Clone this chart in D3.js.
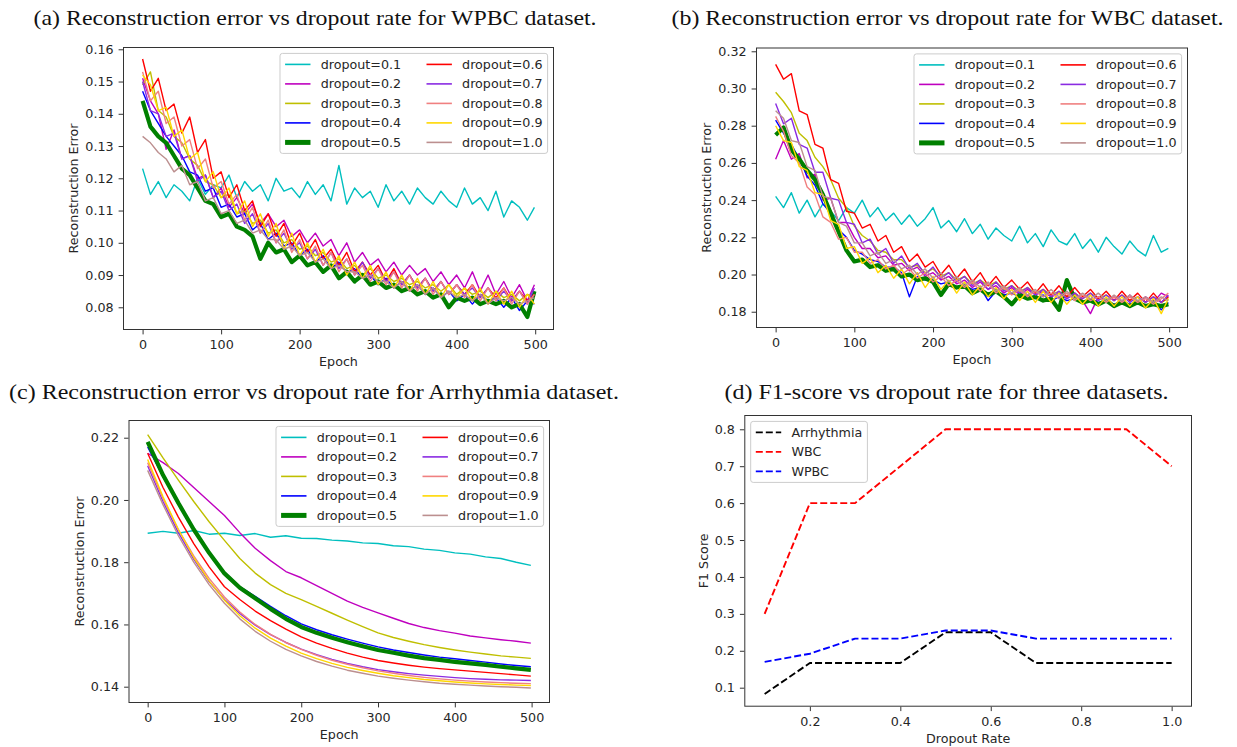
<!DOCTYPE html>
<html><head><meta charset="utf-8">
<script src="https://cdn.jsdelivr.net/npm/d3@7"></script>
<style>
body{margin:0;background:#fff}
svg text{font-family:"DejaVu Sans",sans-serif}
</style></head><body>
<svg id="c" width="1237" height="747"></svg>
<script>
// ---------- DATA ----------
const dropoutLabels = ["dropout=0.1","dropout=0.2","dropout=0.3","dropout=0.4","dropout=0.5","dropout=0.6","dropout=0.7","dropout=0.8","dropout=0.9","dropout=1.0"];
const epochs10 = [...d3.range(0,500,10), 499];
const epochs20 = [...d3.range(0,500,20), 499];

// (a) WPBC reconstruction error, sampled every 10 epochs
const wpbc_01 = [0.123,0.115,0.119,0.114,0.118,0.116,0.113,0.120,0.115,0.118,
 0.117,0.121,0.114,0.119,0.116,0.118,0.113,0.120,0.116,0.117,
 0.114,0.119,0.115,0.118,0.113,0.124,0.112,0.117,0.114,0.116,
 0.111,0.118,0.113,0.116,0.112,0.117,0.114,0.112,0.116,0.113,
 0.111,0.117,0.112,0.114,0.110,0.116,0.108,0.113,0.111,0.107,0.111];
const wpbc_02 = [0.151,0.144,0.140,0.129,0.135,0.126,0.127,0.120,0.121,0.114,
 0.117,0.111,0.114,0.109,0.112,0.106,0.109,0.105,0.107,0.102,
 0.104,0.100,0.103,0.099,0.101,0.096,0.100,0.094,0.097,0.093,
 0.095,0.091,0.094,0.090,0.093,0.090,0.092,0.088,0.091,0.087,
 0.090,0.086,0.091,0.085,0.090,0.084,0.088,0.083,0.087,0.082,0.087];
const wpbc_03 = [0.149,0.153,0.141,0.139,0.133,0.131,0.126,0.124,0.119,0.118,
 0.114,0.115,0.109,0.110,0.106,0.107,0.103,0.104,0.100,0.101,
 0.098,0.099,0.096,0.097,0.094,0.095,0.092,0.093,0.090,0.092,
 0.089,0.090,0.088,0.089,0.087,0.088,0.086,0.087,0.085,0.087,
 0.084,0.086,0.084,0.085,0.083,0.085,0.083,0.084,0.082,0.084,0.083];
const wpbc_04 = [0.147,0.141,0.137,0.133,0.130,0.127,0.122,0.121,0.116,0.117,
 0.111,0.112,0.108,0.109,0.104,0.106,0.101,0.103,0.099,0.100,
 0.096,0.098,0.094,0.096,0.092,0.094,0.091,0.092,0.089,0.090,
 0.087,0.089,0.086,0.088,0.085,0.087,0.084,0.086,0.083,0.085,
 0.082,0.084,0.081,0.084,0.082,0.083,0.080,0.083,0.079,0.082,0.081];
const wpbc_05 = [0.144,0.136,0.133,0.131,0.127,0.123,0.121,0.117,0.113,0.112,
 0.108,0.109,0.105,0.104,0.102,0.095,0.100,0.097,0.098,0.094,
 0.096,0.093,0.094,0.091,0.093,0.089,0.091,0.088,0.090,0.087,
 0.088,0.086,0.087,0.085,0.086,0.084,0.085,0.083,0.084,0.080,
 0.083,0.082,0.083,0.081,0.082,0.081,0.082,0.080,0.081,0.077,0.085];
const wpbc_06 = [0.157,0.147,0.151,0.141,0.143,0.134,0.139,0.128,0.132,0.120,
 0.122,0.114,0.118,0.110,0.113,0.105,0.109,0.102,0.106,0.099,
 0.103,0.097,0.101,0.095,0.098,0.093,0.097,0.091,0.094,0.090,
 0.093,0.088,0.092,0.087,0.090,0.086,0.089,0.085,0.088,0.084,
 0.087,0.084,0.087,0.083,0.086,0.083,0.086,0.082,0.085,0.082,0.084];
const wpbc_07 = [0.150,0.141,0.140,0.133,0.134,0.126,0.127,0.119,0.121,0.114,
 0.116,0.110,0.112,0.106,0.109,0.103,0.106,0.100,0.103,0.098,
 0.100,0.095,0.098,0.093,0.097,0.092,0.095,0.090,0.094,0.089,
 0.092,0.088,0.091,0.087,0.090,0.086,0.089,0.085,0.088,0.084,
 0.087,0.084,0.086,0.083,0.086,0.082,0.085,0.082,0.085,0.081,0.086];
const wpbc_08 = [0.153,0.144,0.147,0.137,0.139,0.130,0.132,0.123,0.126,0.117,
 0.119,0.112,0.115,0.107,0.111,0.103,0.107,0.100,0.104,0.097,
 0.101,0.095,0.099,0.093,0.097,0.091,0.095,0.090,0.093,0.088,
 0.092,0.087,0.091,0.086,0.090,0.085,0.089,0.084,0.088,0.084,
 0.087,0.083,0.087,0.082,0.086,0.082,0.086,0.081,0.085,0.081,0.084];
const wpbc_09 = [0.152,0.149,0.141,0.142,0.133,0.135,0.126,0.128,0.119,0.122,
 0.114,0.117,0.109,0.113,0.105,0.109,0.102,0.106,0.098,0.103,
 0.096,0.100,0.094,0.098,0.092,0.096,0.090,0.094,0.089,0.093,
 0.087,0.091,0.086,0.090,0.085,0.089,0.084,0.088,0.083,0.087,
 0.083,0.086,0.082,0.086,0.081,0.085,0.081,0.085,0.080,0.084,0.081];
const wpbc_10 = [0.133,0.131,0.128,0.126,0.122,0.124,0.118,0.119,0.113,0.114,
 0.109,0.110,0.106,0.107,0.103,0.104,0.101,0.101,0.098,0.099,
 0.096,0.097,0.094,0.095,0.092,0.093,0.091,0.091,0.089,0.090,
 0.088,0.088,0.086,0.088,0.085,0.087,0.084,0.086,0.083,0.085,
 0.083,0.084,0.082,0.084,0.081,0.083,0.082,0.083,0.081,0.082,0.083];

// (b) WBC reconstruction error, sampled every 10 epochs
const wbc_01 = [0.242,0.236,0.244,0.233,0.240,0.231,0.238,0.234,0.229,0.236,
 0.233,0.240,0.231,0.236,0.229,0.233,0.227,0.232,0.226,0.230,
 0.236,0.225,0.229,0.223,0.230,0.222,0.227,0.219,0.225,0.221,
 0.218,0.226,0.217,0.222,0.215,0.224,0.218,0.216,0.222,0.214,
 0.219,0.212,0.220,0.215,0.211,0.218,0.213,0.210,0.221,0.212,0.214];
const wbc_02 = [0.262,0.272,0.262,0.265,0.252,0.254,0.240,0.241,0.228,0.228,
 0.220,0.214,0.214,0.209,0.210,0.205,0.206,0.202,0.204,0.199,
 0.201,0.197,0.199,0.195,0.197,0.193,0.196,0.192,0.194,0.190,
 0.193,0.189,0.192,0.189,0.191,0.188,0.190,0.187,0.190,0.186,
 0.179,0.188,0.186,0.188,0.185,0.189,0.184,0.188,0.185,0.190,0.188];
const wbc_03 = [0.298,0.293,0.287,0.276,0.272,0.263,0.258,0.251,0.241,0.236,
 0.226,0.221,0.218,0.213,0.212,0.208,0.208,0.204,0.205,0.201,
 0.203,0.199,0.201,0.197,0.199,0.195,0.197,0.194,0.196,0.192,
 0.194,0.191,0.193,0.190,0.192,0.189,0.191,0.188,0.190,0.187,
 0.190,0.187,0.189,0.186,0.189,0.186,0.188,0.185,0.188,0.185,0.187];
const wbc_04 = [0.283,0.276,0.270,0.262,0.253,0.248,0.238,0.233,0.224,0.220,
 0.213,0.211,0.208,0.207,0.204,0.204,0.201,0.188,0.199,0.197,
 0.197,0.195,0.196,0.193,0.194,0.192,0.193,0.186,0.191,0.189,
 0.190,0.188,0.189,0.187,0.189,0.186,0.188,0.186,0.187,0.185,
 0.187,0.185,0.186,0.184,0.186,0.184,0.186,0.183,0.186,0.181,0.185];
const wbc_05 = [0.275,0.279,0.267,0.262,0.256,0.251,0.243,0.233,0.223,0.213,
 0.207,0.208,0.204,0.205,0.202,0.203,0.199,0.200,0.197,0.198,
 0.196,0.189,0.195,0.193,0.194,0.190,0.192,0.189,0.191,0.188,
 0.184,0.189,0.187,0.188,0.186,0.187,0.181,0.197,0.187,0.185,
 0.186,0.184,0.186,0.183,0.185,0.183,0.185,0.183,0.184,0.183,0.184];
const wbc_06 = [0.313,0.305,0.308,0.288,0.286,0.270,0.268,0.251,0.249,0.234,
 0.233,0.225,0.227,0.218,0.221,0.212,0.215,0.207,0.211,0.204,
 0.207,0.200,0.205,0.198,0.203,0.196,0.201,0.194,0.199,0.193,
 0.197,0.192,0.196,0.190,0.195,0.189,0.194,0.188,0.193,0.188,
 0.192,0.187,0.191,0.186,0.191,0.186,0.190,0.185,0.190,0.185,0.188];
const wbc_07 = [0.292,0.281,0.284,0.270,0.268,0.255,0.255,0.241,0.240,0.228,
 0.227,0.217,0.219,0.211,0.214,0.206,0.210,0.203,0.206,0.200,
 0.204,0.198,0.201,0.196,0.199,0.194,0.197,0.192,0.196,0.191,
 0.194,0.190,0.193,0.189,0.192,0.188,0.191,0.187,0.190,0.187,
 0.190,0.186,0.189,0.186,0.189,0.185,0.188,0.185,0.188,0.185,0.189];
const wbc_08 = [0.285,0.277,0.264,0.260,0.247,0.243,0.231,0.228,0.219,0.220,
 0.212,0.212,0.206,0.208,0.203,0.205,0.200,0.203,0.198,0.201,
 0.196,0.199,0.194,0.197,0.193,0.196,0.191,0.195,0.190,0.193,
 0.189,0.192,0.188,0.191,0.188,0.190,0.187,0.190,0.186,0.189,
 0.186,0.188,0.185,0.188,0.185,0.188,0.185,0.187,0.184,0.187,0.190];
const wbc_09 = [0.280,0.272,0.271,0.258,0.256,0.244,0.243,0.229,0.227,0.214,
 0.215,0.206,0.209,0.201,0.205,0.198,0.203,0.195,0.201,0.193,
 0.199,0.192,0.197,0.190,0.196,0.189,0.194,0.188,0.193,0.187,
 0.192,0.186,0.191,0.185,0.191,0.185,0.190,0.184,0.189,0.184,
 0.189,0.183,0.188,0.183,0.188,0.183,0.188,0.182,0.187,0.179,0.187];
const wbc_10 = [0.288,0.284,0.272,0.271,0.258,0.256,0.242,0.241,0.228,0.226,
 0.217,0.217,0.210,0.212,0.206,0.208,0.203,0.205,0.200,0.203,
 0.198,0.201,0.196,0.199,0.194,0.197,0.193,0.196,0.191,0.194,
 0.190,0.193,0.189,0.192,0.188,0.192,0.188,0.191,0.187,0.190,
 0.187,0.190,0.186,0.189,0.186,0.189,0.186,0.188,0.185,0.188,0.186];

// (c) Arrhythmia reconstruction error, sampled every 20 epochs
const arr_01 = [0.1893,0.1899,0.1893,0.1902,0.1890,0.1893,0.1886,0.1892,0.1880,0.1885,0.1877,0.1876,0.1871,0.1868,0.1862,0.1860,0.1853,0.1850,0.1842,0.1838,0.1830,0.1826,0.1817,0.1812,0.1800,0.1790];
const arr_02 = [0.2150,0.2120,0.2085,0.2040,0.1995,0.1950,0.1895,0.1845,0.1805,0.1770,0.1750,0.1725,0.1700,0.1675,0.1655,0.1637,0.1620,0.1603,0.1590,0.1580,0.1572,0.1563,0.1557,0.1551,0.1546,0.1540];
const arr_03 = [0.2210,0.2135,0.2064,0.1995,0.1930,0.1870,0.1812,0.1765,0.1728,0.1700,0.1680,0.1658,0.1636,0.1614,0.1593,0.1573,0.1558,0.1546,0.1535,0.1526,0.1518,0.1511,0.1505,0.1499,0.1495,0.1491];
const arr_04 = [0.2170,0.2075,0.1990,0.1905,0.1832,0.1768,0.1722,0.1690,0.1658,0.1628,0.1602,0.1583,0.1567,0.1553,0.1540,0.1528,0.1518,0.1510,0.1502,0.1495,0.1490,0.1484,0.1479,0.1473,0.1468,0.1464];
const arr_05 = [0.2187,0.2080,0.1990,0.1905,0.1830,0.1764,0.1718,0.1684,0.1650,0.1618,0.1592,0.1573,0.1557,0.1543,0.1530,0.1518,0.1509,0.1500,0.1492,0.1486,0.1480,0.1475,0.1470,0.1464,0.1459,0.1454];
const arr_06 = [0.2150,0.2040,0.1945,0.1860,0.1785,0.1721,0.1680,0.1643,0.1612,0.1585,0.1560,0.1540,0.1523,0.1508,0.1495,0.1484,0.1476,0.1469,0.1463,0.1458,0.1454,0.1450,0.1446,0.1442,0.1438,0.1434];
const arr_07 = [0.2110,0.1995,0.1895,0.1810,0.1738,0.1680,0.1635,0.1598,0.1567,0.1542,0.1521,0.1503,0.1488,0.1475,0.1464,0.1455,0.1448,0.1442,0.1437,0.1433,0.1429,0.1426,0.1424,0.1422,0.1421,0.1420];
const arr_08 = [0.2120,0.2005,0.1905,0.1820,0.1748,0.1688,0.1640,0.1600,0.1568,0.1542,0.1520,0.1501,0.1485,0.1472,0.1461,0.1451,0.1443,0.1436,0.1430,0.1425,0.1421,0.1418,0.1415,0.1413,0.1411,0.1410];
const arr_09 = [0.2130,0.2010,0.1905,0.1815,0.1740,0.1678,0.1628,0.1588,0.1556,0.1530,0.1508,0.1490,0.1475,0.1462,0.1452,0.1443,0.1435,0.1429,0.1423,0.1419,0.1415,0.1412,0.1409,0.1407,0.1405,0.1404];
const arr_10 = [0.2095,0.1985,0.1885,0.1800,0.1728,0.1668,0.1618,0.1578,0.1546,0.1520,0.1499,0.1481,0.1466,0.1453,0.1443,0.1434,0.1427,0.1421,0.1416,0.1411,0.1408,0.1405,0.1402,0.1400,0.1398,0.1396];

// (d) F1 score vs dropout rate
const dropoutRates = [0.1,0.2,0.3,0.4,0.5,0.6,0.7,0.8,0.9,1.0];
const f1Arrhythmia = [0.083,0.167,0.167,0.167,0.250,0.250,0.167,0.167,0.167,0.167];
const f1WBC        = [0.300,0.600,0.600,0.700,0.800,0.800,0.800,0.800,0.800,0.700];
const f1WPBC       = [0.170,0.192,0.233,0.233,0.255,0.255,0.233,0.233,0.233,0.233];
const f1Labels = ["Arrhythmia","WBC","WPBC"];

const epochTicks = [0,100,200,300,400,500];
const ticksA = [0.08,0.09,0.10,0.11,0.12,0.13,0.14,0.15,0.16];
const ticksB = [0.18,0.20,0.22,0.24,0.26,0.28,0.30,0.32];
const ticksC = [0.14,0.16,0.18,0.20,0.22];
const ticksDy = [0.1,0.2,0.3,0.4,0.5,0.6,0.7,0.8];
const ticksDx = [0.2,0.4,0.6,0.8,1.0];

// ---------- STYLE ----------
const dropColors = ["#00bfbf","#bf00bf","#bfbf00","#0000ff","#008000","#ff0000","#8a2be2","#f08080","#ffd700","#bc8f8f"];
const dropWidths = [1.4,1.4,1.4,1.4,4.2,1.4,1.4,1.4,1.4,1.4];
const FS = 12.7;
const svg = d3.select("#c");

function mkSeries(arrs, xs) {
  return arrs.map((v,i)=>({label:dropoutLabels[i], color:dropColors[i], width:dropWidths[i], values:v, xs:xs, legendWidth: i===4?5:1.6}));
}

let clipN = 0;
function panel(cfg) {
  const g = svg.append("g");
  const x = d3.scaleLinear().domain(cfg.xDomain).range([cfg.left, cfg.right]);
  const y = d3.scaleLinear().domain(cfg.yDomain).range([cfg.bottom, cfg.top]);
  const id = "clip" + (clipN++);
  svg.append("clipPath").attr("id", id).append("rect")
    .attr("x", cfg.left).attr("y", cfg.top).attr("width", cfg.right-cfg.left).attr("height", cfg.bottom-cfg.top);
  const lg = g.append("g").attr("clip-path", `url(#${id})`);
  const line = d3.line().x(d=>x(d[0])).y(d=>y(d[1]));
  cfg.series.forEach(s=>{
    lg.append("path").datum(s.values.map((v,i)=>[s.xs[i], v]))
      .attr("fill","none").attr("stroke", s.color).attr("stroke-width", s.width)
      .attr("stroke-linejoin","round").attr("stroke-dasharray", s.dash || null)
      .attr("d", line);
  });
  // axes
  const xa = g.append("g").attr("transform", `translate(0,${cfg.bottom})`)
    .call(d3.axisBottom(x).tickValues(cfg.xTicks).tickFormat(cfg.xFmt).tickSize(4.4).tickPadding(6));
  const ya = g.append("g").attr("transform", `translate(${cfg.left},0)`)
    .call(d3.axisLeft(y).tickValues(cfg.yTicks).tickFormat(cfg.yFmt).tickSize(4.4).tickPadding(5));
  [xa, ya].forEach(a=>{
    a.select(".domain").remove();
    a.selectAll("line").attr("stroke","#333");
    a.selectAll("text").attr("fill","#262626").style("font-size", FS+"px").style("font-family","DejaVu Sans");
  });
  // frame
  g.append("rect").attr("x", cfg.left+0.5).attr("y", cfg.top+0.5)
    .attr("width", cfg.right-cfg.left-1).attr("height", cfg.bottom-cfg.top-1)
    .attr("fill","none").attr("stroke","#333").attr("stroke-width",1);
  // labels
  g.append("text").attr("x", (cfg.left+cfg.right)/2).attr("y", cfg.bottom+36)
    .attr("text-anchor","middle").attr("fill","#262626").style("font-size",FS+"px").text(cfg.xlabel);
  g.append("text").attr("transform", `translate(${cfg.ylabelX},${(cfg.top+cfg.bottom)/2}) rotate(-90)`)
    .attr("dy","0.36em").attr("text-anchor","middle").attr("fill","#262626").style("font-size",FS+"px").text(cfg.ylabel);
  // title
  svg.append("text").attr("x", cfg.titleX).attr("y", cfg.titleY)
    .attr("textLength", cfg.titleW).attr("lengthAdjust","spacingAndGlyphs")
    .style("font-family","'Liberation Serif',serif").style("font-size","22px").attr("fill","#111")
    .text(cfg.title);
  // legend
  const ncol = cfg.ncol, nrow = Math.ceil(cfg.series.length/ncol);
  const pad = 5.1, handle = 25.4, htp = 10.2, colsp = 25.4, rowH = 19.5, first = 11;
  const tmp = svg.append("text").style("font-size",FS+"px");
  const widths = cfg.series.map(s=>{ tmp.text(s.label); return tmp.node().getComputedTextLength(); });
  tmp.remove();
  const colW = d3.range(ncol).map(c=>handle+htp+d3.max(widths.slice(c*nrow,(c+1)*nrow)));
  const boxW = pad*2 + d3.sum(colW) + colsp*(ncol-1);
  const boxH = first*2 + rowH*(nrow-1);
  const bx = cfg.legendLoc==="ur" ? cfg.right-6.4-boxW : cfg.left+6.4;
  const by = cfg.top+6.4;
  const L = g.append("g");
  L.append("rect").attr("x",bx).attr("y",by).attr("width",boxW).attr("height",boxH)
    .attr("rx",2.5).attr("fill","rgba(255,255,255,0.8)").attr("stroke","#cccccc").attr("stroke-width",1);
  cfg.series.forEach((s,i)=>{
    const c = Math.floor(i/nrow), r = i%nrow;
    const cx = bx + pad + d3.sum(colW.slice(0,c)) + colsp*c;
    const cy = by + first + r*rowH;
    L.append("line").attr("x1",cx).attr("x2",cx+handle).attr("y1",cy).attr("y2",cy)
      .attr("stroke",s.color).attr("stroke-width",s.legendWidth).attr("stroke-dasharray", s.dash||null);
    L.append("text").attr("x",cx+handle+htp).attr("y",cy).attr("dy","0.36em")
      .attr("fill","#262626").style("font-size",FS+"px").text(s.label);
  });
}

const epDomain = [-24.95, 523.95];
const f2 = d3.format(".2f"), f1 = d3.format(".1f"), f0 = d3.format("d");

panel({left:123,right:554,top:47,bottom:330,xDomain:epDomain,yDomain:[0.07296,0.16071],
  xTicks:epochTicks,yTicks:ticksA,xFmt:f0,yFmt:f2,ylabelX:73,
  series:mkSeries([wpbc_01,wpbc_02,wpbc_03,wpbc_04,wpbc_05,wpbc_06,wpbc_07,wpbc_08,wpbc_09,wpbc_10],epochs10),
  ncol:2,legendLoc:"ur",xlabel:"Epoch",ylabel:"Reconstruction Error",
  title:"(a) Reconstruction error vs dropout rate for WPBC dataset.",titleX:33.6,titleY:25,titleW:563});

panel({left:756,right:1188,top:47.5,bottom:328,xDomain:epDomain,yDomain:[0.17125,0.32204],
  xTicks:epochTicks,yTicks:ticksB,xFmt:f0,yFmt:f2,ylabelX:706,
  series:mkSeries([wbc_01,wbc_02,wbc_03,wbc_04,wbc_05,wbc_06,wbc_07,wbc_08,wbc_09,wbc_10],epochs10),
  ncol:2,legendLoc:"ur",xlabel:"Epoch",ylabel:"Reconstruction Error",
  title:"(b) Reconstruction error vs dropout rate for WBC dataset.",titleX:671.5,titleY:25,titleW:552});

panel({left:128.5,right:550,top:420,bottom:703,xDomain:epDomain,yDomain:[0.13476,0.22569],
  xTicks:epochTicks,yTicks:ticksC,xFmt:f0,yFmt:f2,ylabelX:79,
  series:mkSeries([arr_01,arr_02,arr_03,arr_04,arr_05,arr_06,arr_07,arr_08,arr_09,arr_10],epochs20),
  ncol:2,legendLoc:"ur",xlabel:"Epoch",ylabel:"Reconstruction Error",
  title:"(c) Reconstruction error vs dropout rate for Arrhythmia dataset.",titleX:9,titleY:399,titleW:610});

const f1Colors = ["#000000","#ff0000","#0000ff"];
panel({left:744.3,right:1192,top:415,bottom:706.7,xDomain:[0.055,1.045],yDomain:[0.0485,0.8387],
  xTicks:ticksDx,yTicks:ticksDy,xFmt:f1,yFmt:f1,ylabelX:703,
  series:[f1Arrhythmia,f1WBC,f1WPBC].map((v,i)=>({label:f1Labels[i],color:f1Colors[i],width:1.9,dash:"7,3",values:v,xs:dropoutRates,legendWidth:1.9})),
  ncol:1,legendLoc:"ul",xlabel:"Dropout Rate",ylabel:"F1 Score",
  title:"(d) F1-score vs dropout rate for three datasets.",titleX:724.5,titleY:399,titleW:444});
</script>
</body></html>
